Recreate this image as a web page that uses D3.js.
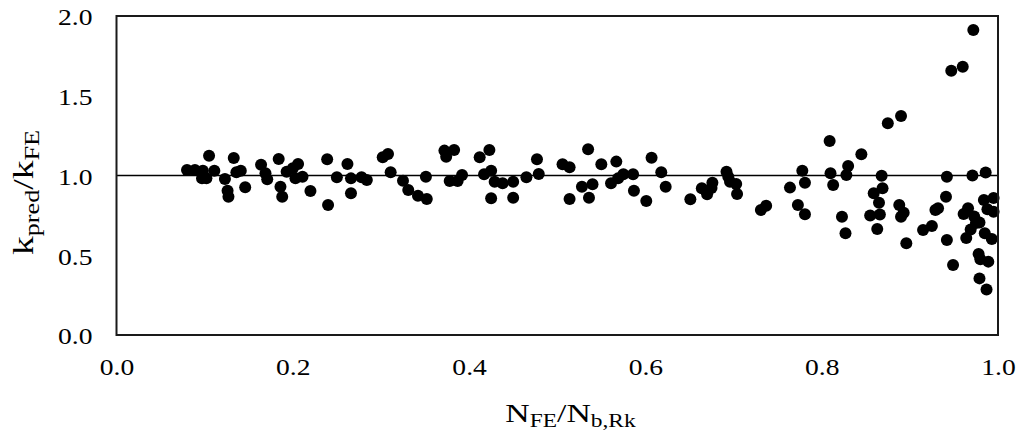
<!DOCTYPE html>
<html>
<head>
<meta charset="utf-8">
<script src="https://cdn.jsdelivr.net/npm/d3@7"></script>
<style>
  body { margin: 0; background: #fff; }
  text { font-family: "Liberation Serif", "Times New Roman", serif; fill: #000; }
</style>
</head>
<body>
<div id="chart-area"></div>
<script>
// Data: N_FE/N_b,Rk (x) and k_pred/k_FE (y)
const nRatio = [
  0.080, 0.089, 0.098, 0.097, 0.102, 0.105, 0.111, 0.123, 0.126, 0.127,
  0.133, 0.136, 0.141, 0.146, 0.164, 0.169, 0.171, 0.184, 0.186, 0.188,
  0.193, 0.200, 0.206, 0.203, 0.211, 0.220, 0.239, 0.240, 0.250, 0.262,
  0.266, 0.266, 0.278, 0.284, 0.302, 0.308, 0.311, 0.325, 0.331, 0.342,
  0.352, 0.351, 0.372, 0.374, 0.383, 0.378, 0.387, 0.392, 0.412, 0.423,
  0.417, 0.425, 0.429, 0.438, 0.450, 0.425, 0.450, 0.465, 0.477, 0.479,
  0.506, 0.514, 0.514, 0.528, 0.535, 0.540, 0.536, 0.550, 0.561, 0.567,
  0.569, 0.575, 0.586, 0.587, 0.601, 0.607, 0.618, 0.623, 0.651, 0.664,
  0.670, 0.676, 0.675, 0.692, 0.694, 0.696, 0.703, 0.704, 0.731, 0.737,
  0.764, 0.773, 0.781, 0.778, 0.781, 0.809, 0.810, 0.813, 0.823, 0.827,
  0.828, 0.830, 0.845, 0.972, 0.947, 0.960, 0.875, 0.890, 0.868, 0.869,
  0.859, 0.865, 0.855, 0.866, 0.863, 0.888, 0.893, 0.890, 0.896, 0.915,
  0.925, 0.929, 0.932, 0.941, 0.942, 0.942, 0.949, 0.961, 0.966, 0.971,
  0.986, 0.973, 0.975, 0.979, 0.969, 0.964, 0.984, 0.988, 0.995, 0.995,
  0.985, 0.993, 0.978, 0.980, 0.989, 0.979, 0.987
];
const kRatio = [
  1.034, 1.034, 1.030, 0.982, 0.982, 1.124, 1.030, 0.978, 0.905, 0.867,
  1.110, 1.020, 1.030, 0.926, 1.068, 1.014, 0.976, 1.103, 0.930, 0.867,
  1.024, 1.045, 1.072, 0.982, 0.992, 0.903, 1.102, 0.815, 0.989, 1.072,
  0.982, 0.888, 0.989, 0.972, 1.114, 1.135, 1.020, 0.967, 0.909, 0.873,
  0.853, 0.992, 1.156, 1.118, 1.160, 0.966, 0.966, 1.003, 1.114, 1.160,
  1.008, 1.030, 0.961, 0.951, 0.961, 0.857, 0.861, 0.989, 1.102, 1.009,
  1.070, 1.051, 0.853, 0.930, 1.164, 0.945, 0.861, 1.070, 0.951, 1.087,
  0.982, 1.008, 1.008, 0.905, 0.840, 1.112, 1.020, 0.930, 0.851, 0.920,
  0.882, 0.955, 0.922, 1.024, 0.992, 0.961, 0.947, 0.884, 0.784, 0.811,
  0.924, 0.815, 0.757, 1.030, 0.955, 1.216, 1.014, 0.940, 0.742, 0.638,
  1.003, 1.060, 1.133, 1.912, 1.657, 1.682, 1.327, 1.373, 0.999, 0.920,
  0.888, 0.829, 0.749, 0.755, 0.665, 0.815, 0.767, 0.742, 0.575, 0.658,
  0.683, 0.784, 0.794, 0.867, 0.992, 0.596, 0.439, 0.759, 0.794, 1.000,
  1.019, 0.743, 0.702, 0.705, 0.661, 0.608, 0.846, 0.788, 0.859, 0.773,
  0.638, 0.602, 0.508, 0.475, 0.460, 0.355, 0.285
];
const xTicks = [0, 0.2, 0.4, 0.6, 0.8, 1.0];
const yTicks = [0, 0.5, 1.0, 1.5, 2.0];
const refLine = 1.0;

const points = nRatio.map((x, i) => ({x: x, y: kRatio[i]}));

// SVG Size
let margin = {top: 16, right: 24, bottom: 111, left: 116.5};
let width = 998 - margin.left;
let height = 335 - margin.top;

const svg = d3.select("div#chart-area").append("svg")
    .attr("width", 1022)
    .attr("height", 446)
    .append("g")
    .attr("transform", "translate(" + margin.left + "," + margin.top + ")");

const xScale = d3.scaleLinear().domain([0, 1]).range([0, width]);
const yScale = d3.scaleLinear().domain([0, 2]).range([height, 0]);

const stretch = 1.2; // tick labels in the picture are a bit wider than plain Times

// x-axis labels
const xAxis = svg.append("g")
    .attr("transform", "translate(0," + height + ")")
    .call(d3.axisBottom(xScale).tickValues(xTicks).tickFormat(d3.format(".1f")).tickSize(0));
xAxis.select(".domain").remove();
xAxis.selectAll("text")
    .attr("y", 40).attr("dy", 0)
    .attr("transform", "scale(" + stretch + ",1)")
    .style("font-size", "23px")
    .style("font-family", "Liberation Serif")
    .attr("fill", "#000");

// y-axis labels
const yAxis = svg.append("g")
    .call(d3.axisLeft(yScale).tickValues(yTicks).tickFormat(d3.format(".1f")).tickSize(0));
yAxis.select(".domain").remove();
yAxis.selectAll("text")
    .attr("x", -24 / stretch).attr("dy", "0.39em")
    .attr("transform", "scale(" + stretch + ",1)")
    .style("font-size", "23px")
    .style("font-family", "Liberation Serif")
    .attr("fill", "#000");

// reference line at 1.0
svg.append("line")
    .attr("x1", 0).attr("x2", width)
    .attr("y1", yScale(refLine)).attr("y2", yScale(refLine))
    .attr("stroke", "#000")
    .attr("stroke-width", 1.6);

// points
svg.selectAll("circle")
    .data(points)
    .enter().append("circle")
    .attr("cx", d => xScale(d.x))
    .attr("cy", d => yScale(d.y))
    .attr("r", 6)
    .attr("fill", "#000");

// frame
svg.append("rect")
    .attr("x", 0).attr("y", 0)
    .attr("width", width).attr("height", height)
    .attr("fill", "none")
    .attr("stroke", "#1a1a1a")
    .attr("stroke-width", 2);

// axis titles
const xTitle = svg.append("text")
    .attr("text-anchor", "middle")
    .attr("transform", "translate(" + (570.5 - margin.left) + "," + (422 - margin.top) + ") scale(1.3,1)")
    .style("font-size", "26px");
xTitle.append("tspan").text("N");
xTitle.append("tspan").attr("dy", 5).style("font-size", "18px").text("FE");
xTitle.append("tspan").attr("dy", -5).text("/N");
xTitle.append("tspan").attr("dy", 5).style("font-size", "18px").text("b,Rk");

const yTitle = svg.append("text")
    .attr("text-anchor", "middle")
    .attr("transform", "translate(" + (33 - margin.left) + "," + (192.5 - margin.top) + ") rotate(-90) scale(1.25,1)")
    .style("font-size", "30px");
yTitle.append("tspan").text("k");
yTitle.append("tspan").attr("dy", 6).style("font-size", "21px").text("pred");
yTitle.append("tspan").attr("dy", -6).text("/k");
yTitle.append("tspan").attr("dy", 6).style("font-size", "21px").text("FE");
</script>
</body>
</html>
